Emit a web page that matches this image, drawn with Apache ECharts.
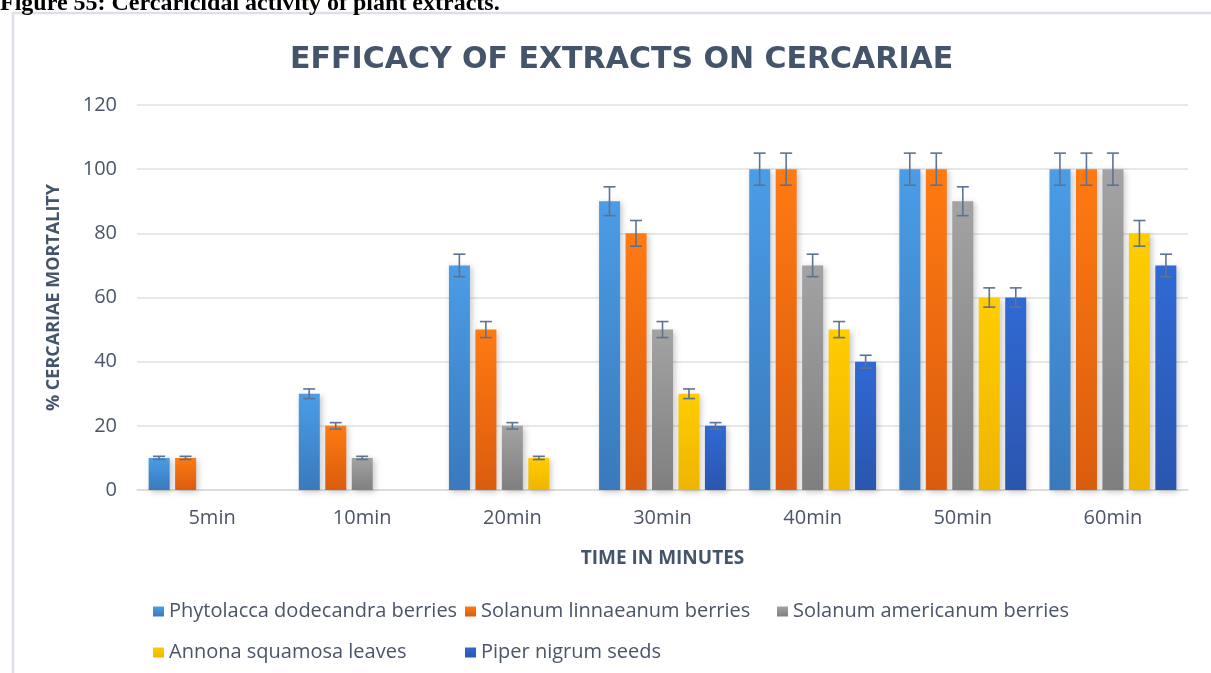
<!DOCTYPE html>
<html>
<head>
<meta charset="utf-8">
<title>Efficacy of extracts on cercariae</title>
<script src="https://cdn.jsdelivr.net/npm/echarts@6/dist/echarts.min.js"></script>
<style>
  html, body { margin: 0; padding: 0; background: #fff; }
  #chart { width: 1211px; height: 673px; }
</style>
</head>
<body>
<div id="chart"></div>
<script>
// categories and values
const times = ['5min', '10min', '20min', '30min', '40min', '50min', '60min']
const extracts = [
  'Phytolacca dodecandra berries',
  'Solanum linnaeanum berries',
  'Solanum americanum berries',
  'Annona squamosa leaves',
  'Piper nigrum seeds'
]
const phytolacca = [10, 30, 70, 90, 100, 100, 100]
const linnaeanum = [10, 20, 50, 80, 100, 100, 100]
const americanum = [0, 10, 20, 50, 70, 90, 100]
const annona = [0, 0, 10, 30, 50, 60, 80]
const piper = [0, 0, 0, 20, 40, 60, 70]
// error bar half-widths
const errPhytolacca = [0.5, 1.5, 3.5, 4.5, 5, 5, 5]
const errLinnaeanum = [0.5, 1, 2.5, 4, 5, 5, 5]
const errAmericanum = [0, 0.5, 1, 2.5, 3.5, 4.5, 5]
const errAnnona = [0, 0, 0.5, 1.5, 2.5, 3, 4]
const errPiper = [0, 0, 0, 1, 2, 3, 3.5]

const values = [phytolacca, linnaeanum, americanum, annona, piper]
const errors = [errPhytolacca, errLinnaeanum, errAmericanum, errAnnona, errPiper]

// top / bottom of each bar gradient
const colors = [
  ['#4A9DE6', '#3A79BC'],
  ['#FF7A12', '#DA5C0E'],
  ['#A3A3A3', '#7F7F7F'],
  ['#FFCD00', '#EEB500'],
  ['#3069D4', '#2A56AE']
]

const BAR_W = 21
const BAR_STEP = 26.5
const textColor = '#4A5568'

const chart = echarts.init(document.getElementById('chart'))

const barSeries = extracts.map((name, i) => ({
  name: name,
  type: 'bar',
  barWidth: BAR_W,
  barGap: '26%',
  data: values[i],
  itemStyle: {
    color: new echarts.graphic.LinearGradient(0, 0, 0, 1, [
      { offset: 0, color: colors[i][0] },
      { offset: 1, color: colors[i][1] }
    ]),
    shadowBlur: 6,
    shadowOffsetX: 2,
    shadowOffsetY: 2,
    shadowColor: 'rgba(0,0,0,0.22)'
  }
}))

// error bars: [categoryIndex, seriesIndex, value, err]
const errData = []
values.forEach((arr, s) => {
  arr.forEach((v, c) => {
    if (v > 0) errData.push([c, s, v, errors[s][c]])
  })
})

const errorSeries = {
  type: 'custom',
  name: 'errors',
  z: 10,
  encode: { x: 0, y: 2 },
  data: errData,
  renderItem: (params, api) => {
    const c = api.value(0)
    const s = api.value(1)
    const v = api.value(2)
    const e = api.value(3)
    const hi = api.coord([c, v + e])
    const lo = api.coord([c, v - e])
    const x = hi[0] + (s - 2) * BAR_STEP
    const hw = 6
    const style = { stroke: '#5E7391', lineWidth: 1.6 }
    return {
      type: 'group',
      children: [
        { type: 'line', shape: { x1: x, y1: hi[1], x2: x, y2: lo[1] }, style: style },
        { type: 'line', shape: { x1: x - hw, y1: hi[1], x2: x + hw, y2: hi[1] }, style: style },
        { type: 'line', shape: { x1: x - hw, y1: lo[1], x2: x + hw, y2: lo[1] }, style: style }
      ]
    }
  }
}

const option = {
  animation: false,
  backgroundColor: '#fff',
  title: {
    text: 'EFFICACY OF EXTRACTS ON CERCARIAE',
    left: 285,
    top: 40,
    textStyle: {
      fontFamily: 'DejaVu Sans',
      fontSize: 30,
      fontWeight: 'bold',
      color: '#44546A'
    }
  },
  graphic: [
    {
      type: 'rect',
      shape: { x: 13, y: 13, width: 1215, height: 700 },
      style: { fill: 'none', stroke: '#DCE0E7', lineWidth: 2.5 },
      silent: true
    },
    {
      type: 'text',
      left: 0,
      top: -8,
      style: {
        text: 'Figure 55: Cercaricidal activity of plant extracts.',
        font: 'bold 24px "Liberation Serif"',
        fill: '#000'
      }
    }
  ],
  legend: {
    data: extracts,
    left: 148,
    top: 586,
    width: 1000,
    itemGap: 0,
    itemWidth: 11,
    itemHeight: 10,
    icon: 'rect',
    textStyle: {
      fontFamily: 'Open Sans',
      fontSize: 20,
      color: textColor,
      width: 296,
      lineHeight: 41,
      overflow: 'none'
    }
  },
  grid: {
    left: 137,
    right: 23,
    top: 105,
    bottom: 183
  },
  xAxis: {
    type: 'category',
    data: times,
    axisTick: { show: false },
    axisLine: { lineStyle: { color: '#D9D9D9', width: 1.5 } },
    axisLabel: {
      margin: 18,
      fontFamily: 'Open Sans',
      fontSize: 20,
      color: textColor
    },
    name: 'TIME IN MINUTES',
    nameLocation: 'middle',
    nameGap: 59,
    nameTextStyle: {
      fontFamily: 'Open Sans',
      fontSize: 19,
      fontWeight: 'bold',
      color: '#44546A'
    }
  },
  yAxis: {
    type: 'value',
    min: 0,
    max: 120,
    interval: 20,
    axisLine: { show: false },
    axisTick: { show: false },
    splitLine: { lineStyle: { color: '#E0E0E0', width: 1.5 } },
    axisLabel: {
      margin: 20,
      fontFamily: 'Open Sans',
      fontSize: 20,
      color: textColor
    },
    name: '% CERCARIAE MORTALITY',
    nameLocation: 'middle',
    nameRotate: 90,
    nameGap: 74,
    nameTextStyle: {
      fontFamily: 'Open Sans',
      fontSize: 18,
      fontWeight: 'bold',
      color: '#44546A'
    }
  },
  series: [...barSeries, errorSeries]
}

chart.setOption(option)
</script>
</body>
</html>
